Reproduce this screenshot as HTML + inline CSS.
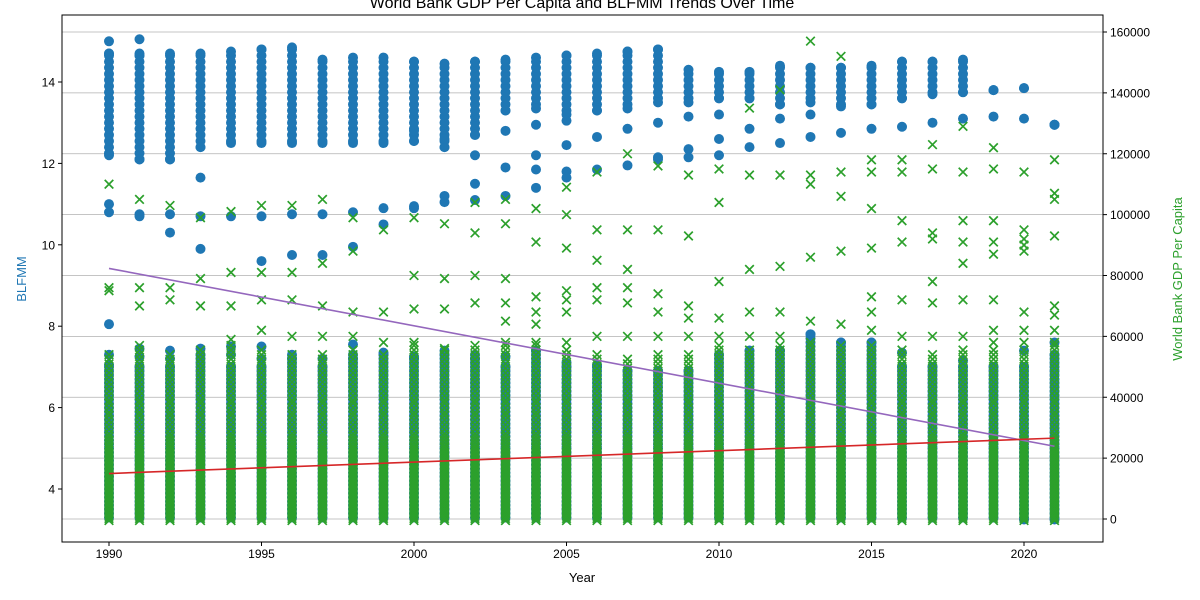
<!DOCTYPE html>
<html><head><meta charset="utf-8">
<style>
html,body{margin:0;padding:0;background:#fff;}
svg{display:block;font-family:"Liberation Sans","DejaVu Sans",sans-serif;}
</style></head>
<body>
<svg id="chart" width="1200" height="600" viewBox="0 0 1200 600">
<text x="582" y="8" font-size="16" text-anchor="middle">World Bank GDP Per Capita and BLFMM Trends Over Time</text>
<g id="grid"></g>
<g id="marks"></g>
<g id="axes"></g>
</svg>
<script>
const years = [1990,1991,1992,1993,1994,1995,1996,1997,1998,1999,2000,2001,2002,2003,2004,2005,2006,2007,2008,2009,2010,2011,2012,2013,2014,2015,2016,2017,2018,2019,2020,2021];
const blueCoreLevels = [3.25,3.3,3.4,3.5,3.6,3.7,3.8,3.9,4.0,4.1,4.2,4.3,4.4,4.5,4.6,4.7,4.8,4.9,5.0,5.1,5.2,5.3,5.4,5.5,5.6,5.7,5.8,5.9,6.0,6.1,6.2,6.3,6.4,6.5,6.6,6.7,6.8,6.9,7.0,7.1,7.2,7.3,7.4,7.5,7.6,7.7,7.8];
const blueCoreMin = [3.3,3.3,3.3,3.3,3.3,3.3,3.3,3.3,3.3,3.3,3.3,3.3,3.3,3.3,3.3,3.3,3.3,3.3,3.3,3.3,3.3,3.3,3.3,3.3,3.3,3.3,3.3,3.3,3.3,3.3,3.25,3.25];
const blueCoreTop = [7.05,7.0,7.0,7.3,7.0,7.0,7.2,7.0,7.2,7.3,7.2,7.3,7.2,7.0,7.4,7.0,7.0,6.9,6.9,6.9,7.3,7.4,7.4,7.8,7.6,7.6,7.0,7.0,7.0,7.0,7.0,7.3];
const blueHighLevels = [12.1,12.25,12.4,12.55,12.7,12.85,13.0,13.15,13.3,13.45,13.6,13.75,13.9,14.05,14.2,14.35,14.5,14.65,14.8];
const blueHighMin = [12.2,12.1,12.1,12.4,12.5,12.5,12.5,12.5,12.5,12.5,12.55,12.4,12.7,13.3,13.35,13.2,13.3,13.35,13.5,13.5,13.6,13.6,13.45,13.5,13.4,13.45,13.6,13.7,13.75,13.8,13.85,12.95];
const blueHighMax = [14.7,14.7,14.7,14.7,14.75,14.8,14.85,14.55,14.6,14.6,14.5,14.45,14.5,14.55,14.6,14.65,14.7,14.75,14.8,14.3,14.25,14.25,14.4,14.35,14.35,14.4,14.5,14.5,14.55,13.8,13.85,12.95];
const blueExtras = [[15.0,14.7,11.0,10.8,8.05,7.3],[15.05,14.65,10.75,10.7,7.45,7.25],[10.75,10.3,7.4,7.2],[11.65,10.7,9.9,7.45],[10.7,7.5,7.3],[10.7,9.6,7.5,7.2],[10.75,9.75,7.3],[10.75,9.75,7.2],[10.8,9.95,7.55,7.3],[10.9,10.5,7.35],[12.8,10.95,10.9,7.25],[12.6,11.2,11.05,7.4],[12.2,11.5,11.1,7.3],[12.8,11.9,11.2,7.25],[12.95,12.2,11.85,11.4,7.4],[13.05,12.45,11.8,11.65,7.1],[12.65,11.85,7.05],[12.85,11.95,14.75],[13.0,12.15,12.1],[13.15,12.35,12.15],[13.2,12.6,12.2],[12.85,12.4],[13.1,12.5],[13.2,12.65],[12.75],[12.85],[12.9,7.35],[13.0],[13.1,7.15],[13.15,13.8],[13.1,7.4],[12.95,7.6]];
const greenCoreLevels = [-500,200,900,1600,2300,3000,3700,4400,5100,5800,6500,7200,7900,8600,9300,10000,10700,11400,12100,12800,13500,14200,14900,15600,16300,17000,17700,18400,19100,19800,20500,21200,21900,22600,23300,24000,25000,26000,27000,28000,29500,31000,32500,34000,35000,36500,38000,39000,40500,42000,43500,45000,46500,48000,49500,51000,52500,54000,55500,57000];
const greenCoreTop = [55000,57000,55000,56000,57000,56000,55000,54000,56000,55000,57000,56000,56000,57000,57000,56000,55000,53000,54000,54000,57000,56000,57000,58000,58000,57000,56000,55000,56000,56000,56000,58000];
const greenExtras = [[110000,76000,75000],[105000,76000,70000],[103000,76000,72000],[99000,79000,70000],[101000,81000,70000,59000],[103000,81000,72000,62000],[103000,81000,72000,60000],[105000,84000,70000,60000],[99000,88000,68000,60000],[95000,68000,58000],[99000,80000,69000,58000],[97000,79000,69000,56000],[104000,94000,80000,71000,57000],[105000,97000,79000,71000,65000,58000],[102000,91000,73000,68000,64000,58000],[109000,100000,89000,75000,72000,68000,58000],[114000,95000,85000,76000,72000,60000],[120000,95000,82000,76000,71000,60000],[116000,95000,74000,68000,60000],[113000,93000,70000,66000,60000],[115000,104000,78000,66000,60000],[135000,113000,82000,68000,60000],[141000,113000,83000,68000,60000],[157000,113000,110000,86000,65000,58000],[152000,114000,106000,88000,64000],[118000,114000,102000,89000,73000,68000,62000],[118000,114000,98000,91000,72000,60000],[123000,115000,94000,92000,78000,71000,60000],[129000,114000,98000,91000,84000,72000,60000],[122000,115000,98000,91000,87000,72000,62000,58000],[114000,95000,92000,90000,88000,68000,62000,58000],[118000,107000,105000,93000,70000,67000,62000,58000]];
const trendYears = [1990,2021];
const purpleTrend = [9.42,5.05];
const redTrend = [4.38,5.25];
const xTicks = [1990,1995,2000,2005,2010,2015,2020];
const yLeftTicks = [4,6,8,10,12,14];
const yRightTicks = [0,20000,40000,60000,80000,100000,120000,140000,160000];

const X0=62,X1=1103,Y0=15,Y1=542;
const xs = v => 109 + (v-1990)*30.5;
const yl = v => 489 - (v-4)*40.7;
const yr = v => 519 - v*487/160000;
const NS="http://www.w3.org/2000/svg";
function mk(parent,tag,attrs){const e=document.createElementNS(NS,tag);for(const k in attrs)e.setAttribute(k,attrs[k]);parent.appendChild(e);return e;}
const grid=document.getElementById('grid'), marks=document.getElementById('marks'), axes=document.getElementById('axes');

yRightTicks.forEach(t=>{
  const l=mk(grid,'line',{x1:X0,x2:X1,y1:yr(t),y2:yr(t),stroke:'#b0b0b0','stroke-width':0.8});
  
  
});

const blueG=mk(marks,'g',{fill:'#1f77b4'});


function dot(y,v){
  const c=mk(blueG,'circle',{cx:xs(y),cy:yl(v),r:5});
  
  
}
years.forEach((y,i)=>{
  blueCoreLevels.forEach(v=>{if(v>=blueCoreMin[i]&&v<=blueCoreTop[i])dot(y,v);});
  dot(y,blueCoreTop[i]);
  blueHighLevels.forEach(v=>{if(v>=blueHighMin[i]&&v<=blueHighMax[i])dot(y,v);});
  dot(y,blueHighMin[i]);dot(y,blueHighMax[i]);
  blueExtras[i].forEach(v=>dot(y,v));
});

const greenG=mk(marks,'g',{stroke:'#2ca02c','stroke-width':1.7,fill:'none'});


function cross(y,v){
  const cx=xs(y),cy=yr(v),s=4.3;
  const p=mk(greenG,'path',{d:`M${cx-s},${cy-s}L${cx+s},${cy+s}M${cx-s},${cy+s}L${cx+s},${cy-s}`});
  
  
}
years.forEach((y,i)=>{
  greenCoreLevels.forEach(v=>{if(v<=greenCoreTop[i])cross(y,v);});
  greenExtras[i].forEach(v=>cross(y,v));
});

const pl=mk(marks,'line',{x1:xs(trendYears[0]),y1:yl(purpleTrend[0]),x2:xs(trendYears[1]),y2:yl(purpleTrend[1]),stroke:'#9467bd','stroke-width':1.6});


const rl=mk(marks,'line',{x1:xs(trendYears[0]),y1:yl(redTrend[0]),x2:xs(trendYears[1]),y2:yl(redTrend[1]),stroke:'#d62728','stroke-width':1.6});



const frame=mk(axes,'rect',{x:X0,y:Y0,width:X1-X0,height:Y1-Y0,fill:'none',stroke:'#000','stroke-width':1});



xTicks.forEach(t=>{
  mk(axes,'line',{x1:xs(t),x2:xs(t),y1:Y1,y2:Y1+4,stroke:'#000'});
  const tx=mk(axes,'text',{x:xs(t),y:Y1+16,'font-size':12,'text-anchor':'middle'});
  tx.textContent=t;
  
  
});
yLeftTicks.forEach(t=>{
  mk(axes,'line',{x1:X0-4,x2:X0,y1:yl(t),y2:yl(t),stroke:'#000'});
  const tx=mk(axes,'text',{x:X0-7,y:yl(t)+4.5,'font-size':12,'text-anchor':'end'});
  tx.textContent=t;
  
  
});
yRightTicks.forEach(t=>{
  mk(axes,'line',{x1:X1,x2:X1+4,y1:yr(t),y2:yr(t),stroke:'#000'});
  const tx=mk(axes,'text',{x:X1+7,y:yr(t)+4.5,'font-size':12,'text-anchor':'start'});
  tx.textContent=t;
  
  
});
const xt=mk(axes,'text',{x:582,y:582,'font-size':13,'text-anchor':'middle'});
xt.textContent='Year';


const ylt=mk(axes,'text',{x:0,y:0,'font-size':13,'text-anchor':'middle',fill:'#1f77b4',transform:'translate(26,279) rotate(-90)'});
ylt.textContent='BLFMM';


const yrt=mk(axes,'text',{x:0,y:0,'font-size':13,'text-anchor':'middle',fill:'#2ca02c',transform:'translate(1182,279) rotate(-90)'});
yrt.textContent='World Bank GDP Per Capita';


</script>
</body></html>
